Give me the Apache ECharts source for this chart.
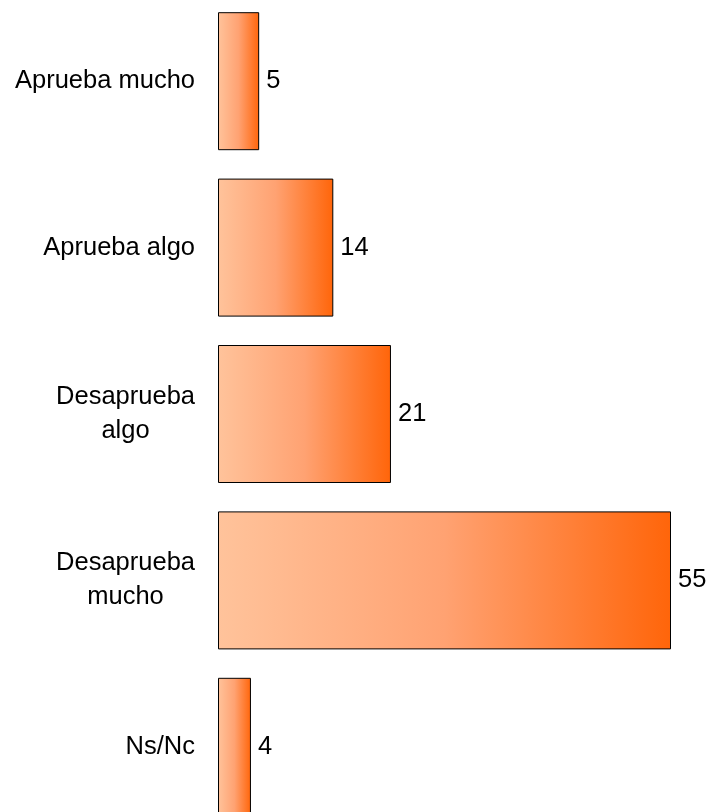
<!DOCTYPE html>
<html>
<head>
<meta charset="utf-8">
<style>
  html, body { margin: 0; padding: 0; background: #fff; }
  #main { width: 710px; height: 812px; }
</style>
<script src="https://cdn.jsdelivr.net/npm/echarts@6/dist/echarts.min.js"></script>
</head>
<body>
<div id="main"></div>
<script>
var categories = ['Aprueba mucho', 'Aprueba algo', 'Desaprueba\nalgo', 'Desaprueba\nmucho', 'Ns/Nc'];
var values = [5, 14, 21, 55, 4];

var myChart = echarts.init(document.getElementById('main'));
var fontFamily = '"Liberation Sans", Arial, sans-serif';

var option = {
    animation: false,
    grid: { left: 218, top: -2, width: 453, height: 832, outerBoundsMode: 'none', containLabel: false },
    xAxis: {
        type: 'value',
        min: 0,
        max: 55,
        show: false
    },
    yAxis: {
        type: 'category',
        inverse: true,
        data: categories,
        axisLine: { show: false },
        axisTick: { show: false },
        splitLine: { show: false },
        axisLabel: {
            margin: 23,
            color: '#000',
            fontFamily: fontFamily,
            fontSize: 25.5,
            lineHeight: 34,
            formatter: function (v) { return '{c|' + v.split('\n').join('}\n{c|') + '}'; },
            rich: {
                c: { align: 'center', fontFamily: fontFamily, fontSize: 25.5, lineHeight: 34, color: '#000' }
            }
        }
    },
    series: [{
        type: 'bar',
        data: values,
        barWidth: 138,
        itemStyle: {
            borderColor: '#000',
            borderWidth: 1,
            color: new echarts.graphic.LinearGradient(0, 0, 1, 0, [
                { offset: 0, color: '#FFC39B' },
                { offset: 0.5, color: '#FFA272' },
                { offset: 1, color: '#FF650A' }
            ])
        },
        label: {
            show: true,
            position: 'right',
            distance: 7,
            color: '#000',
            fontFamily: fontFamily,
            fontSize: 25.5
        }
    }]
};
myChart.setOption(option);
</script>
</body>
</html>
